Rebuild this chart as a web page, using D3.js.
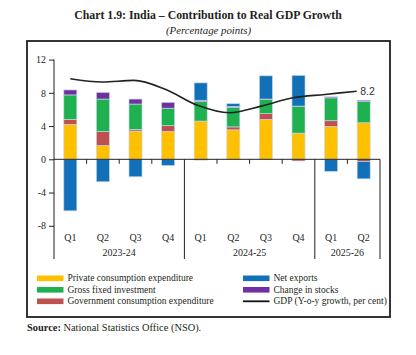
<!DOCTYPE html>
<html><head><meta charset="utf-8">
<script src="https://cdn.jsdelivr.net/npm/d3@7"></script>
<style>body{margin:0;background:#fff}svg{display:block}</style>
</head><body>
<svg id="c" width="416" height="355"></svg>
<script>
const quarters = ["Q1","Q2","Q3","Q4","Q1","Q2","Q3","Q4","Q1","Q2"];
const years = ["2023-24","2024-25","2025-26"];
const yearCounts = [4,4,2];
const pfce   = [4.2,1.65,3.4,3.35,4.6,3.55,4.8,3.15,3.95,4.4];
const gov    = [0.6,1.7,0.2,0.7,-0.1,0.35,0.7,-0.2,0.7,-0.25];
const gfcf   = [2.95,3.9,3.05,2.1,2.35,2.35,1.7,3.2,2.75,2.55];
const stocks = [0.6,0.8,0.6,0.7,0.15,0.1,0.05,0.05,0.12,0.15];
const netExp = [-6.2,-2.7,-2.1,-0.75,2.1,0.35,2.8,3.7,-1.45,-2.1];
const gdp    = [9.7,9.3,9.5,8.4,6.5,5.6,6.4,7.4,7.8,8.2];
const yTicks = [12,8,4,0,-4,-8];
const seriesNames = ["Private consumption expenditure","Gross fixed investment","Government consumption expenditure","Net exports","Change in stocks","GDP (Y-o-y growth, per cent)"];

const svg = d3.select("#c");
const serif = "'Liberation Serif', 'DejaVu Serif', serif";
const black = "#231f20";

// title
svg.append("text").attr("x",208).attr("y",19).attr("text-anchor","middle")
  .style("font-family",serif).style("font-weight","bold").style("font-size","11.8px").attr("fill",black)
  .text("Chart 1.9: India – Contribution to Real GDP Growth");
svg.append("text").attr("x",208.5).attr("y",34).attr("text-anchor","middle")
  .style("font-family",serif).style("font-style","italic").style("font-size","10.8px").attr("fill",black)
  .text("(Percentage points)");

// frame
svg.append("rect").attr("x",27).attr("y",41).attr("width",363).attr("height",276)
  .attr("fill","none").attr("stroke",black).attr("stroke-width",1.8);

// source
const src = svg.append("text").attr("x",27).attr("y",331)
  .style("font-family",serif).style("font-size","10.4px").attr("fill",black);
src.append("tspan").style("font-weight","bold").text("Source:");
src.append("tspan").text(" National Statistics Office (NSO).");

const idx = quarters.map((d,i)=>i);
const x = d3.scaleBand().domain(idx).range([54,380]).padding(0);
const y = d3.scaleLinear().domain([-12,12]).range([259,59.6]);
const bw = x.bandwidth()*0.4;

const keys = ["pfce","gov","gfcf","stocks","nx"];
const colors = {pfce:"#ffc000",gov:"#c0504d",gfcf:"#1fb04f",stocks:"#7030a0",nx:"#1170b8"};
const rows = idx.map(i=>({i, pfce:pfce[i], gov:gov[i], gfcf:gfcf[i], stocks:stocks[i], nx:netExp[i]}));
const stacked = d3.stack().keys(keys).offset(d3.stackOffsetDiverging)(rows);

const g = svg.append("g");
stacked.forEach(layer=>{
  g.selectAll(null).data(layer).enter().append("rect")
    .attr("x",d=>x(d.data.i)+(x.bandwidth()-bw)/2)
    .attr("width",bw)
    .attr("y",d=>y(Math.max(d[0],d[1])))
    .attr("height",d=>Math.abs(y(d[0])-y(d[1])))
    .attr("fill",colors[layer.key])
    .attr("stroke","#c9d8ec").attr("stroke-width",0.8).attr("stroke-opacity",0.8);
});

// y axis
const yAxis = d3.axisLeft(y).tickValues(yTicks).tickSize(5).tickPadding(3).tickFormat(d=>String(d));
const ya = svg.append("g").attr("transform","translate(54,0)").call(yAxis);
ya.select(".domain").remove();
ya.selectAll("line").attr("stroke",black);
ya.selectAll("text").style("font-family",serif).style("font-size","10px").attr("fill",black);
svg.append("line").attr("x1",54).attr("x2",54).attr("y1",y(12)).attr("y2",y(-12)).attr("stroke",black).attr("stroke-width",1);

// zero line
svg.append("line").attr("x1",54).attr("x2",380).attr("y1",y(0)).attr("y2",y(0)).attr("stroke",black).attr("stroke-width",1);

// boundaries
let cum=0; const seps=[];
yearCounts.forEach(c=>{cum+=c; seps.push(cum);});
for(let i=1;i<=quarters.length;i++){
  const xx = (i<quarters.length? x(i) : x.range()[1]);
  const long = seps.includes(i);
  svg.append("line").attr("x1",xx).attr("x2",xx).attr("y1",y(0)).attr("y2",long? y(-12): y(0)+4.5)
    .attr("stroke",black).attr("stroke-width",1);
}

// quarter labels
svg.selectAll(".ql").data(quarters).enter().append("text")
  .attr("x",(d,i)=>x(i)+x.bandwidth()/2).attr("y",241).attr("text-anchor","middle")
  .style("font-family",serif).style("font-size","10px").attr("fill",black).text(d=>d);
// year labels
let start=0;
years.forEach((yr,k)=>{
  const a = x(start), b = (start+yearCounts[k] < quarters.length ? x(start+yearCounts[k]) : x.range()[1]);
  svg.append("text").attr("x",(a+b)/2).attr("y",256).attr("text-anchor","middle")
    .style("font-family",serif).style("font-size","10px").attr("fill",black).text(yr);
  start += yearCounts[k];
});

// GDP line
const xl = d3.scalePoint().domain(idx).range([x(0)+x.bandwidth()/2, x(9)+x.bandwidth()/2-7]);
const line = d3.line().x((d,i)=>xl(i)).y(d=>y(d)).curve(d3.curveMonotoneX);
svg.append("path").datum(gdp).attr("d",line).attr("fill","none").attr("stroke","#222").attr("stroke-width",1.6);
svg.append("text").attr("x",xl(9)+3.5).attr("y",y(gdp[9])).attr("dy","0.35em")
  .style("font-family","'Liberation Sans', Arial, sans-serif").style("font-size","10.5px").attr("fill","#333")
  .text(d3.format(".1f")(gdp[9]));

// legend
const legItems = [
  {name:seriesNames[0], c:colors.pfce, col:0,row:0},
  {name:seriesNames[1], c:colors.gfcf, col:0,row:1},
  {name:seriesNames[2], c:colors.gov, col:0,row:2},
  {name:seriesNames[3], c:colors.nx, col:1,row:0},
  {name:seriesNames[4], c:colors.stocks, col:1,row:1},
  {name:seriesNames[5], c:null, col:1,row:2}
];
const colX=[37,243], rowY=[278.3,289.8,301.3];
legItems.forEach(it=>{
  const lx=colX[it.col], ly=rowY[it.row];
  if(it.c){
    svg.append("rect").attr("x",lx).attr("y",ly-2.8).attr("width",26.5).attr("height",5.6).attr("fill",it.c);
  } else {
    svg.append("line").attr("x1",lx).attr("x2",lx+26.5).attr("y1",ly).attr("y2",ly).attr("stroke","#111").attr("stroke-width",1.8);
  }
  svg.append("text").attr("x",lx+30.5).attr("y",ly).attr("dy","0.33em")
    .style("font-family",serif).style("font-size","9.5px").attr("fill",black).text(it.name);
});
</script>
</body></html>
